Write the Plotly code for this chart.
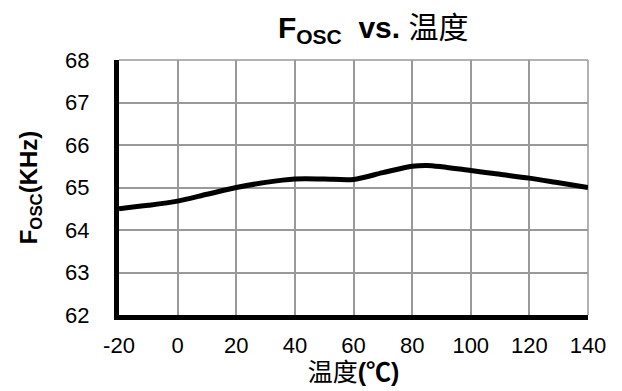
import plotly.graph_objects as go

# Oscillator frequency vs. temperature
temperature_c = [-20, -10, 0, 10, 20, 30, 40, 50, 60, 70, 80, 85, 90, 100, 110, 120, 130, 140]
fosc_khz = [64.50, 64.58, 64.68, 64.84, 65.00, 65.12, 65.20, 65.20, 65.19, 65.35, 65.50, 65.52,
            65.49, 65.40, 65.31, 65.22, 65.11, 65.00]

x_ticks = [-20, 0, 20, 40, 60, 80, 100, 120, 140]
y_ticks = [62, 63, 64, 65, 66, 67, 68]

FONT = "Arial, 'Liberation Sans', 'Noto Sans CJK SC', sans-serif"

fig = go.Figure(
    go.Scatter(
        x=temperature_c,
        y=fosc_khz,
        mode="lines",
        line=dict(color="black", width=5, shape="spline", smoothing=0.8),
        hoverinfo="skip",
    )
)

fig.update_layout(
    width=622,
    height=391,
    margin=dict(l=119, r=34, t=60, b=76),
    paper_bgcolor="white",
    plot_bgcolor="white",
    showlegend=False,
    font=dict(family=FONT, color="black", size=21),
    title=dict(
        text="<b>F<sub>OSC</sub>  vs. </b>温度",
        x=0.6,
        xref="container",
        xanchor="center",
        y=0.93,
        yref="container",
        yanchor="middle",
        font=dict(size=30, family=FONT, color="black"),
    ),
)

fig.update_xaxes(
    range=[-20, 140],
    tickmode="array",
    tickvals=x_ticks,
    ticktext=[str(v) for v in x_ticks],
    showgrid=True,
    gridcolor="#999999",
    gridwidth=1.5,
    showline=True,
    linecolor="black",
    linewidth=5,
    ticks="",
    zeroline=False,
    tickfont=dict(size=22),
    ticklabelstandoff=7,
    title=dict(text="温度<b>(℃)</b>", font=dict(size=25), standoff=2),
)

fig.update_yaxes(
    range=[62, 68],
    tickmode="array",
    tickvals=y_ticks,
    ticktext=[str(v) for v in y_ticks],
    showgrid=True,
    gridcolor="#999999",
    gridwidth=1.5,
    showline=True,
    linecolor="black",
    linewidth=5,
    ticks="",
    zeroline=False,
    tickfont=dict(size=22),
    ticklabelstandoff=20,
    title=dict(text="<b>F<sub>OSC</sub>(KHz)</b>", font=dict(size=24), standoff=22),
)

# right and top borders of the grid
fig.add_shape(type="line", xref="paper", yref="paper", x0=1, x1=1, y0=0, y1=1,
              line=dict(color="#999999", width=1.5), layer="below")
fig.add_shape(type="line", xref="paper", yref="paper", x0=0, x1=1, y0=1, y1=1,
              line=dict(color="#999999", width=1.5), layer="below")

fig.write_html("out.html")
